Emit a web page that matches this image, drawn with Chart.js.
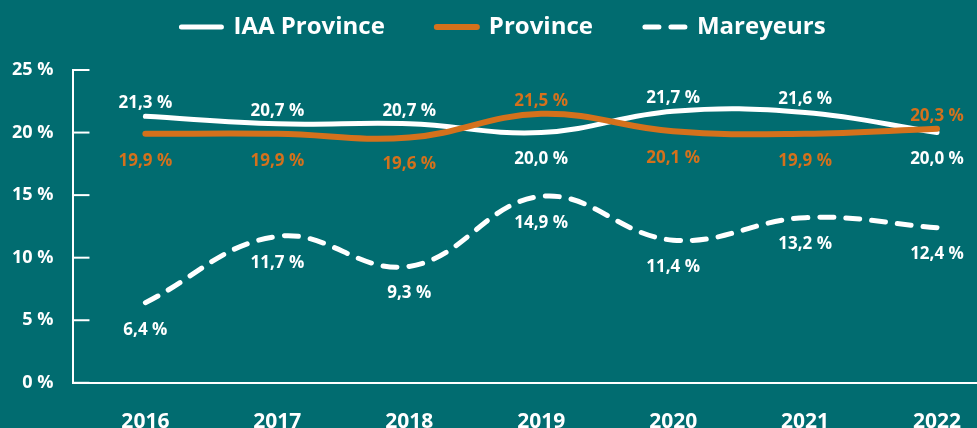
<!DOCTYPE html>
<html>
<head>
<meta charset="utf-8">
<script src="https://cdn.jsdelivr.net/npm/chart.js@4"></script>
<style>
  html, body { margin: 0; padding: 0; background: #016c70; }
  #cadre { width: 977px; height: 428px; }
</style>
</head>
<body>
<div id="cadre"><canvas id="evolChart" width="977" height="428"></canvas></div>
<script>
// donnees (%)
const annees = [2016, 2017, 2018, 2019, 2020, 2021, 2022];
const iaaProvince = [21.3, 20.7, 20.7, 20.0, 21.7, 21.6, 20.0];
const province = [19.9, 19.9, 19.6, 21.5, 20.1, 19.9, 20.3];
const mareyeurs = [6.4, 11.7, 9.3, 14.9, 11.4, 13.2, 12.4];
const graduations = [0, 5, 10, 15, 20, 25];

const BLANC = '#ffffff';
const ORANGE = '#d4711c';
const POLICE = '"Open Sans", "DejaVu Sans", sans-serif';

Chart.defaults.font.family = POLICE;

// points {x: annee, y: valeur}
function serie(valeurs) {
    return valeurs.map((v, i) => ({ x: annees[i], y: v }));
}

// legende : plus d'espace sous elle, et un peu decalee vers la droite
const reglageLegende = {
    id: 'reglageLegende',
    beforeInit(chart) {
        const leg = chart.legend;
        const fitOrig = leg.fit;
        const drawOrig = leg.draw;
        leg.fit = function () {
            fitOrig.call(this);
            this.height += 21;
        };
        leg.draw = function () {
            this.ctx.save();
            this.ctx.translate(19, 0);
            drawOrig.call(this);
            this.ctx.restore();
        };
    }
};

// petits traits de graduation vers l'interieur de l'axe Y
const traitsY = {
    id: 'traitsY',
    afterDraw(chart) {
        const ctx = chart.ctx;
        const echelle = chart.scales.y;
        const gauche = chart.chartArea.left;
        ctx.save();
        ctx.strokeStyle = BLANC;
        ctx.lineWidth = 2;
        echelle.ticks.forEach(t => {
            const py = echelle.getPixelForValue(t.value);
            ctx.beginPath();
            ctx.moveTo(gauche, py);
            ctx.lineTo(gauche + 16, py);
            ctx.stroke();
        });
        ctx.restore();
    }
};

// etiquettes de valeur au-dessus / en dessous des courbes
const etiquettes = {
    id: 'etiquettes',
    afterDatasetsDraw(chart) {
        const ctx = chart.ctx;
        ctx.save();
        ctx.font = 'bold 17px ' + POLICE;
        ctx.textAlign = 'center';
        ctx.textBaseline = 'middle';
        chart.data.datasets.forEach((ds, i) => {
            const meta = chart.getDatasetMeta(i);
            const rival = ds.rival != null ? chart.data.datasets[ds.rival] : null;
            meta.data.forEach((pt, j) => {
                const v = ds.data[j].y;
                const dessus = rival && v > rival.data[j].y;
                ctx.fillStyle = ds.couleurTexte;
                ctx.fillText(v.toFixed(1).replace('.', ',') + ' %', pt.x, pt.y + (dessus ? -13 : 27));
            });
        });
        ctx.restore();
    }
};

var ctx = document.getElementById('evolChart').getContext('2d');
var evolChart = new Chart(ctx, {
    type: 'line',
    data: {
        datasets: [{
            label: 'IAA Province',
            data: serie(iaaProvince),
            borderColor: BLANC,
            borderWidth: 5,
            borderCapStyle: 'round',
            tension: 0.4,
            pointRadius: 0,
            order: 1,
            rival: 1,
            couleurTexte: BLANC
        }, {
            label: 'Province',
            data: serie(province),
            borderColor: ORANGE,
            borderWidth: 6,
            borderCapStyle: 'round',
            tension: 0.4,
            pointRadius: 0,
            order: 0, // dessine par-dessus la courbe blanche
            rival: 0,
            couleurTexte: ORANGE
        }, {
            label: 'Mareyeurs',
            data: serie(mareyeurs),
            borderColor: BLANC,
            borderWidth: 5,
            borderDash: [14, 12],
            borderCapStyle: 'round',
            tension: 0.4,
            pointRadius: 0,
            order: 2,
            couleurTexte: BLANC
        }]
    },
    options: {
        responsive: false,
        animation: false,
        layout: { padding: { left: -8, right: 0, top: -37, bottom: -34 } },
        plugins: {
            tooltip: { enabled: false },
            legend: {
                position: 'top',
                labels: {
                    color: BLANC,
                    font: { size: 24, weight: 'bold' },
                    usePointStyle: true,
                    pointStyle: 'line',
                    pointStyleWidth: 40,
                    padding: 52,
                    // tirets et bouts ronds repris de la courbe
                    generateLabels: chart => Chart.defaults.plugins.legend.labels.generateLabels(chart).map(item => {
                        const ds = chart.data.datasets[item.datasetIndex];
                        item.lineDash = ds.borderDash || [];
                        item.lineCap = 'round';
                        return item;
                    }),
                    sort: (a, b) => a.datasetIndex - b.datasetIndex
                }
            }
        },
        scales: {
            x: {
                type: 'linear',
                min: annees[0] - 0.545,
                max: annees[annees.length - 1] + 0.303,
                afterBuildTicks: s => { s.ticks = annees.map(a => ({ value: a })); },
                afterFit: s => { s.paddingLeft = 0; s.paddingRight = 0; },
                grid: { display: false, drawTicks: false },
                border: { display: true, color: BLANC, width: 2 },
                ticks: {
                    color: BLANC,
                    font: { size: 21, weight: 'bold' },
                    padding: 27,
                    maxRotation: 0,
                    autoSkip: false,
                    callback: v => String(v)
                }
            },
            y: {
                min: 0,
                max: 25,
                afterBuildTicks: s => { s.ticks = graduations.map(g => ({ value: g })); },
                grid: { display: false, drawTicks: false },
                border: { display: true, color: BLANC, width: 2 },
                ticks: {
                    color: BLANC,
                    font: { size: 18, weight: 'bold' },
                    padding: 20,
                    callback: v => v + ' %'
                }
            }
        }
    },
    plugins: [reglageLegende, traitsY, etiquettes]
});
</script>
</body>
</html>
